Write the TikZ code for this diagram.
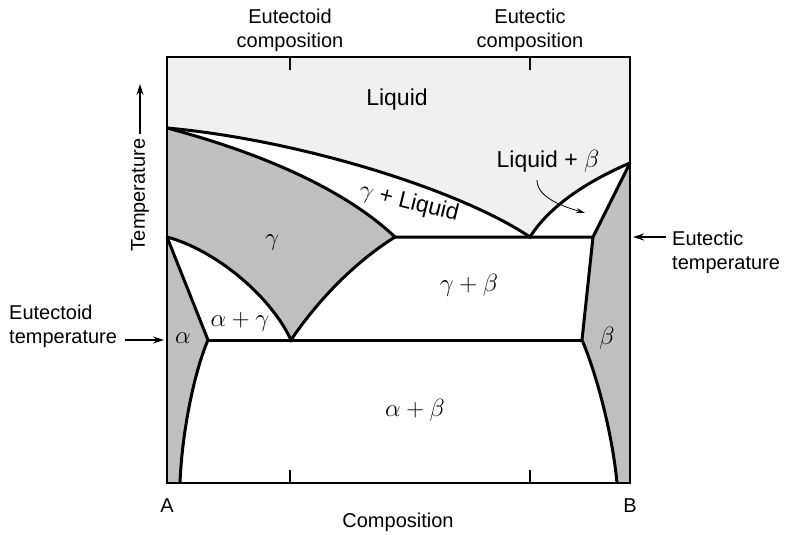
\documentclass[tikz,border=0pt]{standalone}
\usepackage{fontspec}
\setmainfont{Liberation Sans}
\usetikzlibrary{arrows.meta}
\definecolor{liqgray}{gray}{0.94}
\definecolor{phasegray}{gray}{0.75}
\tikzset{
  lbl/.style={font=\fontsize{20}{24}\selectfont, inner sep=1pt, align=center},
  phase/.style={font=\fontsize{23}{26}\selectfont, inner sep=1pt},
  bound/.style={line width=3pt, line join=miter},
  note/.style={line width=1.1pt, -{Stealth[length=11pt,width=7pt]}},
}
\begin{document}
\begin{tikzpicture}[x=1pt, y=-1pt]
  \useasboundingbox (0,0) rectangle (788,535);
  % points of the diagram
  \coordinate (TA) at (167,128);  % melting point of A
  \coordinate (TB) at (630,163);  % melting point of B
  \coordinate (Eu) at (530,237);  % eutectic point
  \coordinate (Gm) at (395,237);  % gamma end of eutectic line
  \coordinate (Bm) at (593,237);  % beta end of eutectic line
  \coordinate (Gt) at (167,237);  % top of alpha
  \coordinate (Ed) at (291,340);  % eutectoid point
  \coordinate (Am) at (208,340);  % alpha end of eutectoid line
  \coordinate (Bd) at (582,340);  % beta end of eutectoid line
  \coordinate (Ab) at (180,483);
  \coordinate (Bb) at (617,483);

  % regions
  \fill[liqgray] (167,57) -- (630,57) -- (TB)
    .. controls (590,180) and (550,205) .. (Eu)
    .. controls (460,190) and (300,140) .. (TA) -- cycle;
  \fill[phasegray] (TA) .. controls (250,150) and (340,185) .. (Gm)
    .. controls (355,262) and (318,300) .. (Ed)
    .. controls (270,295) and (215,250) .. (Gt) -- cycle;
  \fill[phasegray] (Gt) -- (Am) .. controls (195,370) and (182,430) .. (Ab)
    -- (167,483) -- cycle;
  \fill[phasegray] (TB) -- (Bm) -- (Bd) .. controls (595,370) and (612,430) .. (Bb)
    -- (630,483) -- cycle;

  % phase boundaries
  \draw[bound] (TA) .. controls (300,140) and (460,190) .. (Eu)
    .. controls (550,205) and (590,180) .. (TB);
  \draw[bound] (TA) .. controls (250,150) and (340,185) .. (Gm) -- (Bm);
  \draw[bound] (TB) -- (Bm) -- (Bd) .. controls (595,370) and (612,430) .. (Bb);
  \draw[bound] (Gt) .. controls (215,250) and (270,295) .. (Ed)
    .. controls (318,300) and (355,262) .. (Gm);
  \draw[bound] (Gt) -- (Am) .. controls (195,370) and (182,430) .. (Ab);
  \draw[bound] (Am) -- (Bd);

  % frame and ticks
  \draw[line width=1.8pt] (167,57) rectangle (630,483);
  \foreach \t in {290,530} {
    \draw[line width=1.2pt] (\t,57) -- (\t,70);
    \draw[line width=1.2pt] (\t,483) -- (\t,470);
  }

  % phase labels
  \node[phase] (liq) at (397,100) {Liquid};
  \node[phase, rotate=-14] (gliq) at (409,203) {$\gamma$ + Liquid};
  \node[phase] (lb) at (548,161) {Liquid + $\beta$};
  \node[phase] (g) at (272,243) {$\gamma$};
  \node[phase] (gb) at (469,285) {$\gamma+\beta$};
  \node[phase] (ag) at (240,322) {$\alpha+\gamma$};
  \node[phase] (a) at (183,338) {$\alpha$};
  \node[phase] (b) at (607,338) {$\beta$};
  \node[phase] (ab) at (415,410) {$\alpha+\beta$};
  \coordinate (lbtail) at (537,180);
  \coordinate (lbtip) at (585,213);
  \draw[line width=0.8pt, -{Stealth[length=9pt,width=5pt]}] (lbtail)
    .. controls (537,196) and (558,205) .. (lbtip);

  % axis labels
  \node[lbl] (ecomp) at (290,30) {Eutectoid\\composition};
  \node[lbl] (tcomp) at (530,30) {Eutectic\\composition};
  \node[lbl] (A) at (167,506) {A};
  \node[lbl] (B) at (630,506) {B};
  \node[lbl] (comp) at (398,522) {Composition};
  \node[lbl, rotate=90] (temp) at (140,195) {Temperature};
  \coordinate (ttop) at (140,84);
  \draw[note] (temp.east) ++(0,-4) -- (ttop);

  % temperature notes
  \node[lbl, align=left, anchor=west] (etdT) at (8,326) {Eutectoid\\temperature};
  \coordinate (etdS) at (125,340);
  \coordinate (etdE) at (164,340);
  \draw[note] (etdS) -- (etdE);
  \node[lbl, align=left, anchor=west] (etcT) at (671,252) {Eutectic\\temperature};
  \coordinate (etcS) at (666,237);
  \coordinate (etcE) at (633,237);
  \draw[note] (etcS) -- (etcE);
\end{tikzpicture}
\end{document}
